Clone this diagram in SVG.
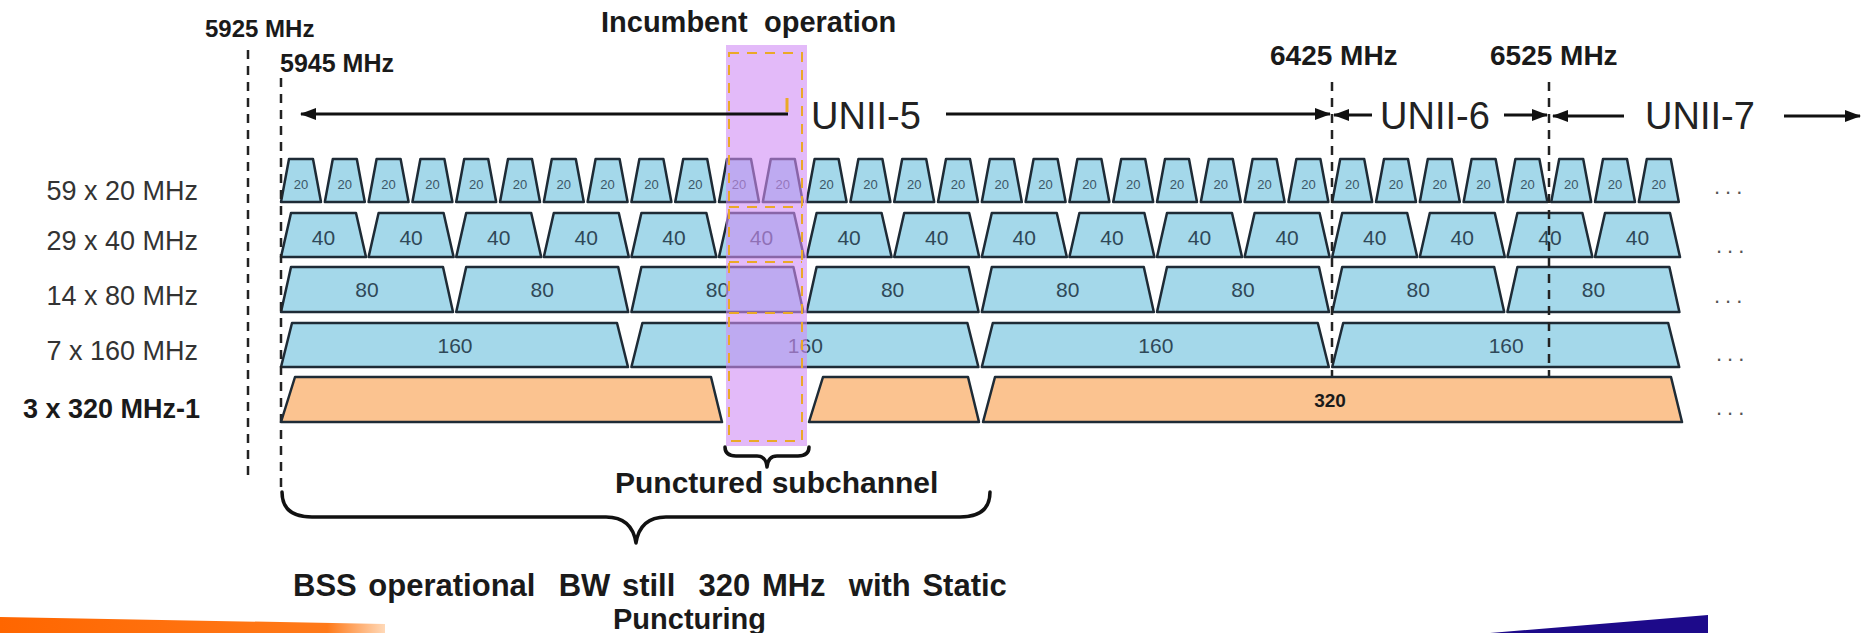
<svg xmlns="http://www.w3.org/2000/svg" width="1862" height="633" viewBox="0 0 1862 633">
<style>
.ch{fill:#a4d8ea;stroke:#1e2b36;stroke-width:2.5;stroke-linejoin:round}
.ch text{stroke:none}
.or{fill:#fbc390;stroke:#1e2b36;stroke-width:2.5;stroke-linejoin:round}
.n20{font-family:"Liberation Sans",Arial,sans-serif;font-size:13px;fill:#3a5666;text-anchor:middle}
.n{font-family:"Liberation Sans",Arial,sans-serif;font-size:21px;fill:#2f4858;text-anchor:middle}
.lbl{font-family:"Liberation Sans",Arial,sans-serif;font-size:27px;fill:#333;text-anchor:end}
.b{font-family:"Liberation Sans",Arial,sans-serif;font-weight:bold;fill:#1a1a1a}
.u{font-family:"Liberation Sans",Arial,sans-serif;font-size:38px;fill:#222}
.dots{font-family:"Liberation Sans",Arial,sans-serif;font-size:22px;fill:#555;letter-spacing:5px}
.dash{stroke:#222;stroke-width:2.5;stroke-dasharray:9 7;fill:none}
.arr{stroke:#111;stroke-width:3;fill:none;marker-end:url(#ah)}
.brace{stroke:#111;stroke-width:3.5;fill:none;stroke-linecap:round;stroke-linejoin:round}
.od{stroke:#eaa928;stroke-width:2;stroke-dasharray:10 8;fill:none}
</style>
<defs>
<marker id="ah" viewBox="0 0 16 12" refX="15" refY="6" markerWidth="16" markerHeight="12" markerUnits="userSpaceOnUse" orient="auto"><path d="M0,0 L16,6 L0,12 Z" fill="#111"/></marker>
<polygon id="t20" points="1,202 9,159 33,159 41,202"/>
<polygon id="t40" points="1,257 11,213 76,213 86,257"/>
<polygon id="t80" points="1,312 11,267 163,267 173,312"/>
<polygon id="t160" points="1,367 12,323 337,323 348,367"/>
<linearGradient id="og" x1="0" x2="1" y1="0" y2="0"><stop offset="0" stop-color="#ff6600"/><stop offset="0.85" stop-color="#ff7a1a"/><stop offset="1" stop-color="#ffd9b8"/></linearGradient>
</defs>
<rect width="1862" height="633" fill="#fff"/>

<g id="row-labels">
<text class="lbl" x="198" y="200">59 x 20 MHz</text>
<text class="lbl" x="198" y="250">29 x 40 MHz</text>
<text class="lbl" x="198" y="305">14 x 80 MHz</text>
<text class="lbl" x="198" y="360">7 x 160 MHz</text>
<text class="lbl" x="200" y="418" style="font-weight:bold;fill:#1a1a1a">3 x 320 MHz-1</text>
</g>

<g id="row-20" class="ch">
<g id="c20-0" transform="translate(280 0)"><use href="#t20"/><text class="n20" x="21" y="189">20</text></g>
<g id="c20-1" transform="translate(323.8 0)"><use href="#t20"/><text class="n20" x="21" y="189">20</text></g>
<g id="c20-2" transform="translate(367.6 0)"><use href="#t20"/><text class="n20" x="21" y="189">20</text></g>
<g id="c20-3" transform="translate(411.4 0)"><use href="#t20"/><text class="n20" x="21" y="189">20</text></g>
<g id="c20-4" transform="translate(455.2 0)"><use href="#t20"/><text class="n20" x="21" y="189">20</text></g>
<g id="c20-5" transform="translate(499 0)"><use href="#t20"/><text class="n20" x="21" y="189">20</text></g>
<g id="c20-6" transform="translate(542.8 0)"><use href="#t20"/><text class="n20" x="21" y="189">20</text></g>
<g id="c20-7" transform="translate(586.6 0)"><use href="#t20"/><text class="n20" x="21" y="189">20</text></g>
<g id="c20-8" transform="translate(630.4 0)"><use href="#t20"/><text class="n20" x="21" y="189">20</text></g>
<g id="c20-9" transform="translate(674.2 0)"><use href="#t20"/><text class="n20" x="21" y="189">20</text></g>
<g id="c20-10" transform="translate(718 0)"><use href="#t20"/><text class="n20" x="21" y="189">20</text></g>
<g id="c20-11" transform="translate(761.8 0)"><use href="#t20"/><text class="n20" x="21" y="189">20</text></g>
<g id="c20-12" transform="translate(805.6 0)"><use href="#t20"/><text class="n20" x="21" y="189">20</text></g>
<g id="c20-13" transform="translate(849.4 0)"><use href="#t20"/><text class="n20" x="21" y="189">20</text></g>
<g id="c20-14" transform="translate(893.2 0)"><use href="#t20"/><text class="n20" x="21" y="189">20</text></g>
<g id="c20-15" transform="translate(937 0)"><use href="#t20"/><text class="n20" x="21" y="189">20</text></g>
<g id="c20-16" transform="translate(980.8 0)"><use href="#t20"/><text class="n20" x="21" y="189">20</text></g>
<g id="c20-17" transform="translate(1024.6 0)"><use href="#t20"/><text class="n20" x="21" y="189">20</text></g>
<g id="c20-18" transform="translate(1068.4 0)"><use href="#t20"/><text class="n20" x="21" y="189">20</text></g>
<g id="c20-19" transform="translate(1112.2 0)"><use href="#t20"/><text class="n20" x="21" y="189">20</text></g>
<g id="c20-20" transform="translate(1156 0)"><use href="#t20"/><text class="n20" x="21" y="189">20</text></g>
<g id="c20-21" transform="translate(1199.8 0)"><use href="#t20"/><text class="n20" x="21" y="189">20</text></g>
<g id="c20-22" transform="translate(1243.6 0)"><use href="#t20"/><text class="n20" x="21" y="189">20</text></g>
<g id="c20-23" transform="translate(1287.4 0)"><use href="#t20"/><text class="n20" x="21" y="189">20</text></g>
<g id="c20-24" transform="translate(1331.2 0)"><use href="#t20"/><text class="n20" x="21" y="189">20</text></g>
<g id="c20-25" transform="translate(1375 0)"><use href="#t20"/><text class="n20" x="21" y="189">20</text></g>
<g id="c20-26" transform="translate(1418.8 0)"><use href="#t20"/><text class="n20" x="21" y="189">20</text></g>
<g id="c20-27" transform="translate(1462.6 0)"><use href="#t20"/><text class="n20" x="21" y="189">20</text></g>
<g id="c20-28" transform="translate(1506.4 0)"><use href="#t20"/><text class="n20" x="21" y="189">20</text></g>
<g id="c20-29" transform="translate(1550.2 0)"><use href="#t20"/><text class="n20" x="21" y="189">20</text></g>
<g id="c20-30" transform="translate(1594 0)"><use href="#t20"/><text class="n20" x="21" y="189">20</text></g>
<g id="c20-31" transform="translate(1637.8 0)"><use href="#t20"/><text class="n20" x="21" y="189">20</text></g>
</g>

<g id="row-40" class="ch">
<g id="c40-0" transform="translate(280 0)"><use href="#t40"/><text class="n" x="43.5" y="245">40</text></g>
<g id="c40-1" transform="translate(367.6 0)"><use href="#t40"/><text class="n" x="43.5" y="245">40</text></g>
<g id="c40-2" transform="translate(455.2 0)"><use href="#t40"/><text class="n" x="43.5" y="245">40</text></g>
<g id="c40-3" transform="translate(542.8 0)"><use href="#t40"/><text class="n" x="43.5" y="245">40</text></g>
<g id="c40-4" transform="translate(630.4 0)"><use href="#t40"/><text class="n" x="43.5" y="245">40</text></g>
<g id="c40-5" transform="translate(718 0)"><use href="#t40"/><text class="n" x="43.5" y="245">40</text></g>
<g id="c40-6" transform="translate(805.6 0)"><use href="#t40"/><text class="n" x="43.5" y="245">40</text></g>
<g id="c40-7" transform="translate(893.2 0)"><use href="#t40"/><text class="n" x="43.5" y="245">40</text></g>
<g id="c40-8" transform="translate(980.8 0)"><use href="#t40"/><text class="n" x="43.5" y="245">40</text></g>
<g id="c40-9" transform="translate(1068.4 0)"><use href="#t40"/><text class="n" x="43.5" y="245">40</text></g>
<g id="c40-10" transform="translate(1156 0)"><use href="#t40"/><text class="n" x="43.5" y="245">40</text></g>
<g id="c40-11" transform="translate(1243.6 0)"><use href="#t40"/><text class="n" x="43.5" y="245">40</text></g>
<g id="c40-12" transform="translate(1331.2 0)"><use href="#t40"/><text class="n" x="43.5" y="245">40</text></g>
<g id="c40-13" transform="translate(1418.8 0)"><use href="#t40"/><text class="n" x="43.5" y="245">40</text></g>
<g id="c40-14" transform="translate(1506.4 0)"><use href="#t40"/><text class="n" x="43.5" y="245">40</text></g>
<g id="c40-15" transform="translate(1594 0)"><use href="#t40"/><text class="n" x="43.5" y="245">40</text></g>
</g>

<g id="row-80" class="ch">
<g id="c80-0" transform="translate(280 0)"><use href="#t80"/><text class="n" x="87" y="297">80</text></g>
<g id="c80-1" transform="translate(455.2 0)"><use href="#t80"/><text class="n" x="87" y="297">80</text></g>
<g id="c80-2" transform="translate(630.4 0)"><use href="#t80"/><text class="n" x="87" y="297">80</text></g>
<g id="c80-3" transform="translate(805.6 0)"><use href="#t80"/><text class="n" x="87" y="297">80</text></g>
<g id="c80-4" transform="translate(980.8 0)"><use href="#t80"/><text class="n" x="87" y="297">80</text></g>
<g id="c80-5" transform="translate(1156 0)"><use href="#t80"/><text class="n" x="87" y="297">80</text></g>
<g id="c80-6" transform="translate(1331.2 0)"><use href="#t80"/><text class="n" x="87" y="297">80</text></g>
<g id="c80-7" transform="translate(1506.4 0)"><use href="#t80"/><text class="n" x="87" y="297">80</text></g>
</g>

<g id="row-160" class="ch">
<g id="c160-0" transform="translate(280 0)"><use href="#t160"/><text class="n" x="175" y="353">160</text></g>
<g id="c160-1" transform="translate(630.4 0)"><use href="#t160"/><text class="n" x="175" y="353">160</text></g>
<g id="c160-2" transform="translate(980.8 0)"><use href="#t160"/><text class="n" x="175" y="353">160</text></g>
<g id="c160-3" transform="translate(1331.2 0)"><use href="#t160"/><text class="n" x="175" y="353">160</text></g>
</g>

<g id="freq-lines">
<line class="dash" x1="248" y1="50" x2="248" y2="476"/>
<line class="dash" x1="281" y1="78" x2="281" y2="492"/>
<line class="dash" x1="1332" y1="82" x2="1332" y2="376"/>
<line class="dash" x1="1549" y1="82" x2="1549" y2="376"/>
</g>

<g id="row-320">
<g id="c320-1a"><polygon class="or" points="281,422 295,377 711,377 722,422"/></g>
<g id="c320-1b"><polygon class="or" points="809,422 823,377 968,377 979,422"/></g>
<g id="c320-2"><polygon class="or" points="983,422 995,377 1671,377 1682,422"/><text class="b" x="1330" y="407" font-size="19" text-anchor="middle">320</text></g>
</g>

<g id="ellipses">
<text class="dots" x="1714" y="194">...</text>
<text class="dots" x="1716" y="253">...</text>
<text class="dots" x="1714" y="303">...</text>
<text class="dots" x="1716" y="361">...</text>
<text class="dots" x="1716" y="415">...</text>
</g>

<g id="incumbent">
<rect x="726" y="45" width="81" height="401" fill="#d08cf5" fill-opacity="0.6"/>
<rect class="od" x="729" y="53" width="73" height="388"/>
<line class="od" x1="729" y1="207" x2="802" y2="207"/>
<line class="od" x1="729" y1="262" x2="802" y2="262"/>
<line class="od" x1="729" y1="313" x2="802" y2="313"/>
<line x1="787" y1="98" x2="787" y2="112" stroke="#eaa928" stroke-width="3"/>
<text class="b" x="601" y="32" font-size="29">Incumbent</text>
<text class="b" x="764" y="32" font-size="29">operation</text>
</g>

<g id="freq-labels">
<text class="b" x="205" y="37" font-size="24">5925 MHz</text>
<text class="b" x="280" y="72" font-size="25">5945 MHz</text>
<text class="b" x="1270" y="65" font-size="28">6425 MHz</text>
<text class="b" x="1490" y="65" font-size="28">6525 MHz</text>
</g>

<g id="connectors">
<line class="arr" x1="788" y1="114" x2="301" y2="114"/>
<line class="arr" x1="946" y1="114" x2="1330" y2="114"/>
<line class="arr" x1="1372" y1="115" x2="1334" y2="115"/>
<line class="arr" x1="1504" y1="115" x2="1547" y2="115"/>
<line class="arr" x1="1624" y1="116" x2="1553" y2="116"/>
<line class="arr" x1="1784" y1="116" x2="1860" y2="116"/>
</g>

<g id="band-labels">
<text class="u" x="811" y="129">UNII-5</text>
<text class="u" x="1380" y="129">UNII-6</text>
<text class="u" x="1645" y="129">UNII-7</text>
</g>

<g id="braces">
<path class="brace" d="M725,447 Q725,456 736,456 L757,456 Q766,456 767,467 Q768,456 777,456 L798,456 Q809,456 809,447"/>
<path class="brace" d="M282,492 Q282,517 312,517 L606,517 Q632,517 636,543 Q640,517 666,517 L960,517 Q990,517 990,492"/>
</g>

<g id="annotations">
<text class="b" x="615" y="493" font-size="30">Punctured subchannel</text>
<text class="b" x="293" y="596" font-size="31" word-spacing="3" xml:space="preserve">BSS operational  BW still  320 MHz  with Static</text>
<text class="b" x="613" y="629" font-size="29">Puncturing</text>
</g>

<g id="decor">
<polygon points="0,617 385,624 385,633 0,633" fill="url(#og)"/>
<polygon points="1490,633 1708,615 1708,633" fill="#1d0a8a"/>
</g>
</svg>
